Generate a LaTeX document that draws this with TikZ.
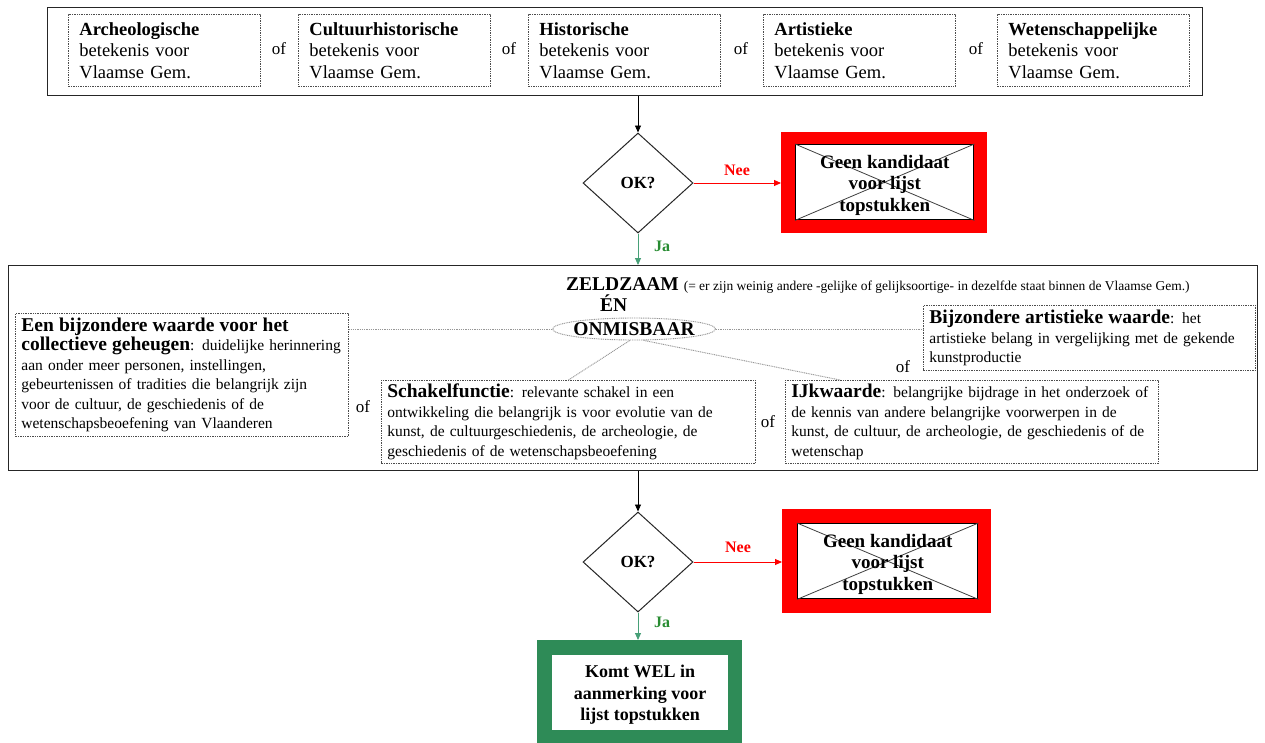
\documentclass[tikz,border=0pt]{standalone}
\usepackage{fontspec}
\setmainfont{Liberation Serif}
\usetikzlibrary{arrows.meta,shapes.geometric}
\definecolor{fred}{RGB}{255,0,0}
\definecolor{fgreen}{RGB}{46,139,87}
\definecolor{fgreenl}{RGB}{72,160,120}
\definecolor{jagreen}{RGB}{40,140,50}
\definecolor{lgray}{RGB}{150,150,150}
\newcommand\hdfont{\fontsize{19.5}{21}\selectfont\bfseries}
\newcommand\smfont{\fontsize{15.5}{19.5}\selectfont}
\newcommand\topfont{\fontsize{18.5}{21.5}\selectfont}
\begin{document}
\begin{tikzpicture}[x=1pt,y=-1pt,
  frame/.style={draw=black!85,line width=1.3pt,anchor=north west,inner sep=0pt},
  dbox/.style={draw=black!70,dash pattern=on 1.4pt off 1pt,line width=0.8pt,anchor=north west,align=left,inner xsep=6pt,inner ysep=1pt},
  tbox/.style={dbox,font=\topfont,inner xsep=11pt},
  ofl/.style={font=\fontsize{17}{20}\selectfont,inner sep=0pt},
  dia/.style={diamond,draw=black!85,line width=1pt,minimum width=110pt,minimum height=100pt,inner sep=0pt,font=\fontsize{17}{20}\selectfont\bfseries},
  arr/.style={line width=0.9pt,-{Triangle[length=7pt,width=6pt]}},
  redfr/.style={fill=fred,anchor=north west,inner sep=0pt},
  inbox/.style={fill=white,draw=black,line width=1.4pt,anchor=north west,inner sep=0pt},
  xline/.style={draw=black!75,line width=0.8pt},
  btxt/.style={font=\fontsize{19}{21.5}\selectfont\bfseries,align=center},
  conn/.style={draw=lgray,line width=0.9pt,dash pattern=on 1pt off 0.8pt},
  lab/.style={font=\fontsize{16}{18}\selectfont\bfseries}
]
\useasboundingbox[fill=white] (0,0) rectangle (1265,742);

% ---------- top row ----------
\node[frame,minimum width=1155pt,minimum height=88pt] (top) at (47,7) {};
\node[tbox,text width=170pt,minimum height=72pt] (b1) at (68,14) {\textbf{Archeologische}\\betekenis voor\\Vlaamse Gem.};
\node[tbox,text width=170pt,minimum height=72pt] (b2) at (298,14) {\textbf{Cultuurhistorische}\\betekenis voor\\Vlaamse Gem.};
\node[tbox,text width=170pt,minimum height=72pt] (b3) at (528,14) {\textbf{Historische}\\betekenis voor\\Vlaamse Gem.};
\node[tbox,text width=170pt,minimum height=72pt] (b4) at (763,14) {\textbf{Artistieke}\\betekenis voor\\Vlaamse Gem.};
\node[tbox,text width=170pt,minimum height=72pt] (b5) at (997,14) {\textbf{Wetenschappelijke}\\betekenis voor\\Vlaamse Gem.};
\node[ofl] (of1) at (279,49) {of};
\node[ofl] (of2) at (509,49) {of};
\node[ofl] (of3) at (741,49) {of};
\node[ofl] (of4) at (976,49) {of};

% ---------- first decision ----------
\node[dia] (d1) at (638,183) {OK?};
\draw[arr] (top.south -| d1.north) -- (d1.north);
\node[redfr,minimum width=206pt,minimum height=101pt] (r1) at (781,132) {};
\node[inbox,minimum width=178pt,minimum height=75pt] (r1in) at (795,144) {};
\draw[xline] (r1in.north west) -- (r1in.south east);
\draw[xline] (r1in.south west) -- (r1in.north east);
\node[btxt,yshift=-3pt] (r1t) at (r1in.center) {Geen kandidaat\\voor lijst\\topstukken};
\draw[arr,fred] (d1.east) -- (d1.east -| r1.west);
\node[lab,text=fred] (nee1) at (737,170) {Nee};

% ---------- middle frame ----------
\node[frame,minimum width=1249pt,minimum height=205pt] (mid) at (8,265) {};
\draw[arr,fgreenl] (d1.south) -- (d1.south |- mid.north);
\node[lab,text=jagreen] (ja1) at (662,246) {Ja};

\node[anchor=base west,inner sep=0pt,font=\hdfont] (zeld) at (566,290) {ZELDZAAM {\fontsize{13.5}{15}\selectfont\mdseries (= er zijn weinig andere -gelijke of gelijksoortige- in dezelfde staat binnen de Vlaamse Gem.)}};
\node[anchor=base west,inner sep=0pt,font=\hdfont] (en) at (600,311) {ÉN};
\node[ellipse,draw=lgray,line width=0.9pt,dash pattern=on 1pt off 0.8pt,minimum width=163pt,minimum height=22pt,inner sep=0pt] (ell) at (634,329) {};
\node[font=\hdfont,inner sep=0pt] (onm) at (ell.center) {ONMISBAAR};

\node[dbox,font=\smfont,text width=321pt,minimum height=123pt] (lbox) at (15,313) {{\hdfont Een bijzondere waarde voor het\\collectieve geheugen}: duidelijke herinnering\\aan onder meer personen, instellingen,\\gebeurtenissen of tradities die belangrijk zijn\\voor de cultuur, de geschiedenis of de\\wetenschapsbeoefening van Vlaanderen};
\node[dbox,font=\smfont,text width=320pt,minimum height=65pt] (rbox) at (923,305) {{\hdfont Bijzondere artistieke waarde}: het\\artistieke belang in vergelijking met de gekende\\kunstproductie};
\node[dbox,font=\smfont,text width=362pt,minimum height=83pt] (sbox) at (381,380) {{\hdfont Schakelfunctie}: relevante schakel in een\\ontwikkeling die belangrijk is voor evolutie van de\\kunst, de cultuurgeschiedenis, de archeologie, de\\geschiedenis of de wetenschapsbeoefening};
\node[dbox,font=\smfont,text width=361pt,minimum height=83pt] (ibox) at (785,380) {{\hdfont IJkwaarde}: belangrijke bijdrage in het onderzoek of\\de kennis van andere belangrijke voorwerpen in de\\kunst, de cultuur, de archeologie, de geschiedenis of de\\wetenschap};
\node[ofl] (of5) at (363,407) {of};
\node[ofl] (of6) at (768,422) {of};
\node[ofl] (of7) at (903,367) {of};

\coordinate (ijt) at (840,380);
\draw[conn] (ell.west) -- (ell.west -| lbox.east);
\draw[conn] (ell.east) -- (ell.east -| rbox.west);
\draw[conn] (ell.250) -- (sbox.north);
\draw[conn] (ell.-50) -- (ijt);

% ---------- second decision ----------
\node[dia] (d2) at (638,562) {OK?};
\draw[arr] (mid.south -| d2.north) -- (d2.north);
\node[redfr,minimum width=209pt,minimum height=104pt] (r2) at (782,509) {};
\node[inbox,minimum width=180pt,minimum height=75pt] (r2in) at (797,523) {};
\draw[xline] (r2in.north west) -- (r2in.south east);
\draw[xline] (r2in.south west) -- (r2in.north east);
\node[btxt,yshift=-3pt] (r2t) at (r2in.center) {Geen kandidaat\\voor lijst\\topstukken};
\draw[arr,fred] (d2.east) -- (d2.east -| r2.west);
\node[lab,text=fred] (nee2) at (738,547) {Nee};

\node[fill=fgreen,anchor=north west,inner sep=0pt,minimum width=205pt,minimum height=110pt] (g) at (537,640) {};
\node[fill=white,anchor=north west,inner sep=0pt,minimum width=176pt,minimum height=75pt] (gin) at (552,655) {};
\node[btxt,font=\fontsize{18}{21.5}\selectfont\bfseries,yshift=-2pt] (gt) at (gin.center) {Komt WEL in\\aanmerking voor\\lijst topstukken};
\draw[arr,fgreenl] (d2.south) -- (d2.south |- g.north);
\node[lab,text=jagreen] (ja2) at (662,622) {Ja};
\end{tikzpicture}
\end{document}
